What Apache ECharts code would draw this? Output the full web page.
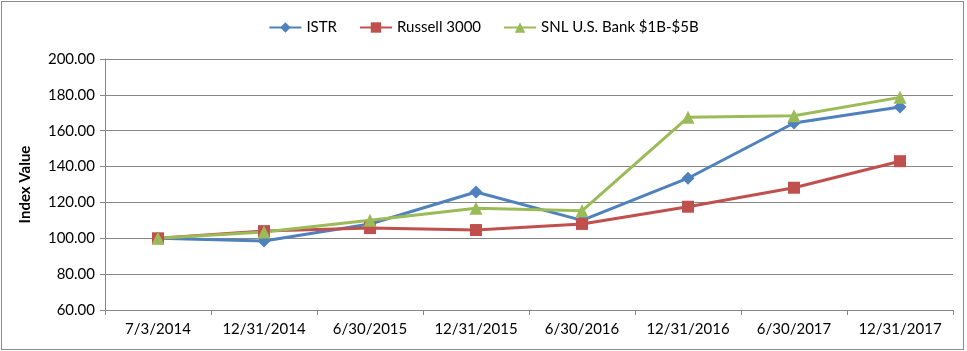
<!DOCTYPE html>
<html>
<head>
<meta charset="utf-8">
<script src="https://cdn.jsdelivr.net/npm/echarts@6/dist/echarts.min.js"></script>
<style>
  body { margin: 0; background: #fff; }
  #frame { position: absolute; left: 1px; top: 1px; width: 961px; height: 347px; border: 1px solid #8c8c8c; }
  #chart { position: absolute; left: 0; top: 0; width: 967px; height: 351px; }
</style>
</head>
<body>
<div id="frame"></div>
<div id="chart"></div>
<script>
// period end dates
const categories = ['7/3/2014', '12/31/2014', '6/30/2015', '12/31/2015', '6/30/2016', '12/31/2016', '6/30/2017', '12/31/2017']
const istr = [100.00, 98.50, 108.00, 125.80, 110.00, 133.50, 164.30, 173.20]
const russell = [100.00, 104.00, 105.70, 104.60, 108.00, 117.60, 128.20, 143.00]
const snl = [100.00, 103.50, 110.00, 116.80, 115.30, 167.50, 168.30, 178.60]

const font = 'Lato'
const chart = echarts.init(document.getElementById('chart'))

function lineSeries(name, data, color, symbol, size) {
  return {
    name: name,
    type: 'line',
    data: data,
    symbol: symbol,
    symbolSize: size,
    showAllSymbol: true,
    animation: false,
    itemStyle: { color: color },
    lineStyle: { color: color, width: 3 }
  }
}

chart.setOption({
  textStyle: { fontFamily: font },
  legend: {
    top: 15,
    left: 'center',
    itemGap: 22,
    itemWidth: 32,
    itemHeight: 13,
    textStyle: { fontSize: 15, color: '#000', fontFamily: font },
    data: ['ISTR', 'Russell 3000', 'SNL U.S. Bank $1B-$5B']
  },
  grid: { left: 105, right: 14, top: 59, bottom: 41 },
  xAxis: {
    type: 'category',
    data: categories,
    boundaryGap: true,
    axisLine: { lineStyle: { color: '#868686', width: 1 } },
    axisTick: { show: true, length: 5, interval: 0, lineStyle: { color: '#868686' } },
    axisLabel: { fontSize: 15, color: '#000', margin: 12, interval: 0, fontFamily: font }
  },
  yAxis: {
    type: 'value',
    min: 60,
    max: 200,
    interval: 20,
    name: 'Index Value',
    nameLocation: 'middle',
    nameGap: 72,
    nameTextStyle: { fontSize: 15, fontWeight: 'bold', color: '#000', fontFamily: font },
    axisLine: { show: true, lineStyle: { color: '#868686', width: 1 } },
    axisTick: { show: true, length: 5, lineStyle: { color: '#868686' } },
    splitLine: { lineStyle: { color: '#868686', width: 1 } },
    axisLabel: {
      fontSize: 15, color: '#000', margin: 10, fontFamily: font,
      formatter: v => v.toFixed(2)
    }
  },
  series: [
    lineSeries('ISTR', istr, '#4f81bd', 'diamond', 13),
    lineSeries('Russell 3000', russell, '#c0504d', 'rect', 12),
    lineSeries('SNL U.S. Bank $1B-$5B', snl, '#9bbb59', 'triangle', 13)
  ]
})
</script>
</body>
</html>
